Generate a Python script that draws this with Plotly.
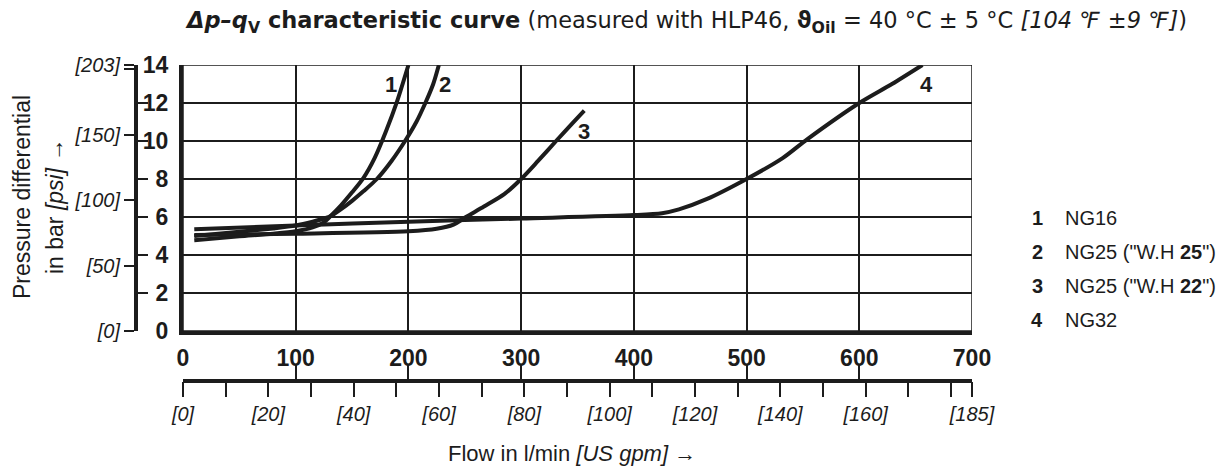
import plotly.graph_objects as go

# chart data (flow in l/min, pressure differential in bar)
flow_ng16 = [10, 50, 80, 100, 115, 125, 131, 140, 150, 160, 170, 180, 190, 200]
dp_ng16 = [4.78, 4.98, 5.12, 5.25, 5.45, 5.72, 6.05, 6.6, 7.3, 8.05, 9.1, 10.5, 12.1, 14.0]

flow_ng25_wh25 = [10, 50, 80, 100, 115, 125, 131, 140, 150, 160, 172, 185, 197, 207, 215, 222, 227]
dp_ng25_wh25 = [5.0, 5.22, 5.4, 5.55, 5.75, 5.92, 6.05, 6.4, 6.85, 7.35, 8.0, 8.95, 10.0, 11.0, 12.0, 13.0, 14.0]

flow_ng25_wh22 = [10, 100, 200, 225, 240, 251, 267, 285, 300, 315, 331, 345, 356]
dp_ng25_wh22 = [5.05, 5.12, 5.25, 5.38, 5.6, 6.0, 6.55, 7.2, 8.0, 8.95, 10.0, 10.9, 11.6]

flow_ng32 = [10, 100, 200, 300, 400, 425, 440, 465, 500, 532, 554, 600, 629, 656]
dp_ng32 = [5.35, 5.55, 5.75, 5.92, 6.1, 6.2, 6.4, 6.95, 8.0, 9.1, 10.1, 12.0, 13.0, 14.0]

curve_ids = ["1", "2", "3", "4"]
curve_names = ["NG16", 'NG25 ("W.H <b>25</b>")', 'NG25 ("W.H <b>22</b>")', "NG32"]
label_x = [184.6, 232.5, 356, 660]
label_y = [12.95, 12.95, 10.5, 13.0]

flow_ticks = [0, 100, 200, 300, 400, 500, 600, 700]
bar_ticks = [0, 2, 4, 6, 8, 10, 12, 14]
psi_ticks = [0, 50, 100, 150, 200, 203]
psi_text = ["[0]", "[50]", "[100]", "[150]", " ", "[203]"]
gpm_ticks = [0, 10, 20, 30, 40, 50, 60, 70, 80, 90, 100, 110, 120, 130, 140, 150, 160, 170, 180, 185]
gpm_text = ["[0]", " ", "[20]", " ", "[40]", " ", "[60]", " ", "[80]", " ", "[100]", " ",
            "[120]", " ", "[140]", " ", "[160]", " ", " ", "[185]"]

BAR_TO_PSI = 14.5037738
GPM_TO_LPM = 3.785411784

# the page body keeps its default 8px margin, so positions are shifted by it
OFF = 8
W, H = 1232, 467
INK = "#1c1c1c"
NUM_FONT = "Liberation Sans, Arial, sans-serif"
TXT_FONT = "Liberation Sans, Arial, sans-serif"


def px(x):
    # screen pixel -> paper fraction
    return (x - OFF) / W


def py(y):
    return 1 - (y - OFF) / H


fig = go.Figure()

curves = [
    (flow_ng16, dp_ng16),
    (flow_ng25_wh25, dp_ng25_wh25),
    (flow_ng25_wh22, dp_ng25_wh22),
    (flow_ng32, dp_ng32),
]
for cid, (xs, ys) in zip(curve_ids, curves):
    fig.add_trace(
        go.Scatter(
            x=xs, y=ys, mode="lines",
            line=dict(color=INK, width=4, shape="spline", smoothing=0.8),
            name=cid, showlegend=False, hoverinfo="skip",
        )
    )

# dummy traces so the secondary scales get drawn
for xa, ya in [("x2", "y"), ("x3", "y"), ("x", "y2"), ("x", "y3")]:
    fig.add_trace(go.Scatter(x=[None], y=[None], xaxis=xa, yaxis=ya,
                             showlegend=False, hoverinfo="skip"))

# curve numbers
for cid, lx, ly in zip(curve_ids, label_x, label_y):
    fig.add_annotation(x=lx, y=ly, xref="x", yref="y", text=f"<b>{cid}</b>",
                       xanchor="center", yanchor="middle", showarrow=False,
                       font=dict(family=NUM_FONT, size=22, color=INK))

# legend on the right
for i, (cid, name) in enumerate(zip(curve_ids, curve_names)):
    yy = 218 + i * 34
    fig.add_annotation(x=px(1037), y=py(yy), xref="paper", yref="paper", text=f"<b>{cid}</b>",
                       xanchor="center", yanchor="middle", showarrow=False,
                       font=dict(family=TXT_FONT, size=20, color=INK))
    fig.add_annotation(x=px(1063), y=py(yy), xref="paper", yref="paper", text=name,
                       xanchor="left", yanchor="middle", showarrow=False,
                       font=dict(family=TXT_FONT, size=20, color=INK))

# title
fig.add_annotation(
    x=px(183), y=py(22), xref="paper", yref="paper", showarrow=False,
    xanchor="left", yanchor="middle",
    text=("<b><i>Δp–q</i><sub>V</sub> characteristic curve</b> (measured with HLP46, "
          "<b>ϑ<sub>Oil</sub></b> = 40 °C ± 5 °C <i>[104 ℉ ±9 ℉]</i>)"),
    font=dict(family="DejaVu Sans, sans-serif", size=22.5, color=INK),
)

# axis titles
fig.add_annotation(x=px(22), y=py(197), xref="paper", yref="paper", showarrow=False,
                   xanchor="center", yanchor="middle",
                   text="Pressure differential", textangle=-90,
                   font=dict(family=TXT_FONT, size=23, color=INK))
fig.add_annotation(x=px(55), y=py(206), xref="paper", yref="paper", showarrow=False,
                   xanchor="center", yanchor="middle",
                   text="in bar <i>[psi]</i> →", textangle=-90,
                   font=dict(family=TXT_FONT, size=23, color=INK))
fig.add_annotation(x=px(572), y=py(453), xref="paper", yref="paper", showarrow=False,
                   xanchor="center", yanchor="middle",
                   text="Flow in l/min <i>[US gpm]</i> →",
                   font=dict(family=TXT_FONT, size=22, color=INK))

# thin frame on top/right
fig.add_shape(type="rect", xref="x", yref="y", x0=0, x1=700, y0=0, y1=14,
              line=dict(color=INK, width=1.5), layer="above")

x_dom = [px(183), px(972)]
y_dom = [py(331), py(65)]

fig.update_layout(
    width=W, height=H,
    margin=dict(l=0, r=0, t=0, b=0, autoexpand=False),
    plot_bgcolor="white", paper_bgcolor="white",
    xaxis=dict(
        domain=x_dom, range=[0, 700], tickvals=flow_ticks,
        ticktext=[f"<b>{v}</b>" for v in flow_ticks], automargin=False,
        showgrid=True, gridcolor=INK, gridwidth=1.5, zeroline=False,
        showline=True, linecolor=INK, linewidth=4, ticks="", ticklabelstandoff=3,
        tickfont=dict(family=NUM_FONT, size=23, color=INK),
    ),
    yaxis=dict(
        domain=y_dom, range=[0, 14], tickvals=bar_ticks,
        ticktext=[f"<b>{v}</b>" for v in bar_ticks], automargin=False,
        showgrid=True, gridcolor=INK, gridwidth=1.5, zeroline=False,
        showline=True, linecolor=INK, linewidth=4, ticks="", ticklabelstandoff=6,
        tickfont=dict(family=NUM_FONT, size=23, color=INK),
    ),
    yaxis2=dict(
        overlaying="y", anchor="free", position=px(136), side="left", automargin=False,
        range=[0, 14 * BAR_TO_PSI], tickvals=psi_ticks, ticktext=psi_text,
        ticks="outside", ticklen=10, tickwidth=2, tickcolor=INK,
        showline=True, linecolor=INK, linewidth=4, showgrid=False, zeroline=False,
        tickfont=dict(family=TXT_FONT, size=20, color=INK, style="italic"),
    ),
    yaxis3=dict(
        overlaying="y", anchor="free", position=px(136), side="left", automargin=False,
        range=[0, 14], tickvals=bar_ticks, showticklabels=False,
        ticks="inside", ticklen=11, tickwidth=2, tickcolor=INK,
        showline=False, showgrid=False, zeroline=False,
    ),
    xaxis2=dict(
        overlaying="x", anchor="free", position=py(381), side="bottom", automargin=False,
        range=[0, 700], tickvals=flow_ticks, showticklabels=False,
        ticks="inside", ticklen=14, tickwidth=2, tickcolor=INK,
        showline=True, linecolor=INK, linewidth=4, showgrid=False, zeroline=False,
    ),
    xaxis3=dict(
        overlaying="x", anchor="free", position=py(381), side="bottom", automargin=False,
        range=[0, 700], tickvals=[min(g * GPM_TO_LPM, 700) for g in gpm_ticks],
        ticktext=gpm_text, tickangle=0,
        ticks="outside", ticklen=15, tickwidth=2, tickcolor=INK,
        showline=False, showgrid=False, zeroline=False,
        tickfont=dict(family=TXT_FONT, size=20, color=INK, style="italic"),
    ),
)

fig.write_html("out.html")
